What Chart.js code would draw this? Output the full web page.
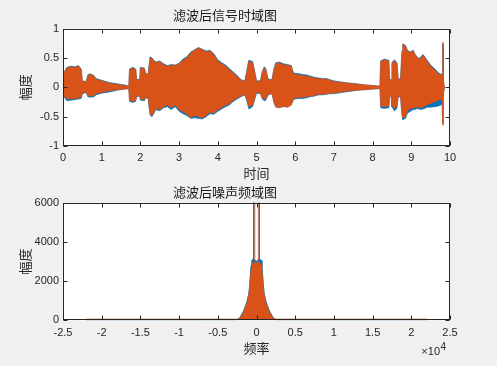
<!DOCTYPE html>
<html>
<head>
<meta charset="utf-8">
<title>滤波后信号</title>
<script src="https://cdn.jsdelivr.net/npm/chart.js@4.4.0/dist/chart.umd.min.js"></script>
<style>
    html, body { margin: 0; padding: 0; background: #f0f0f0; }
    #wrap { position: relative; width: 497px; height: 366px; overflow: hidden; }
    canvas { position: absolute; left: 0; }
    #timeChart { top: 0; }
    #specChart { top: 178px; }
</style>
</head>
<body>
<div id="wrap">
    <canvas id="timeChart" width="497" height="183"></canvas>
    <canvas id="specChart" width="497" height="188"></canvas>
</div>
<script>
// Time-domain envelope (seconds / amplitude)
const timeAxis = [
    0, 0.03, 0.1, 0.2, 0.3, 0.4, 0.47, 0.5, 0.6, 0.64,
    0.7, 0.8, 0.85, 1.0, 1.2, 1.4, 1.6, 1.7, 1.72, 1.8,
    1.88, 1.9, 1.98, 2.0, 2.1, 2.14, 2.2, 2.25, 2.3, 2.35,
    2.4, 2.5, 2.6, 2.7, 2.8, 2.9, 3.0, 3.1, 3.2, 3.3,
    3.4, 3.5, 3.6, 3.7, 3.8, 3.9, 4.0, 4.1, 4.2, 4.3,
    4.4, 4.5, 4.6, 4.7, 4.76, 4.8, 4.9, 4.94, 5.0, 5.1,
    5.15, 5.2, 5.24, 5.3, 5.4, 5.45, 5.5, 5.6, 5.7, 5.8,
    5.9, 5.95, 6.0, 6.1, 6.2, 6.3, 6.4, 6.5, 6.6, 6.7,
    6.8, 6.9, 7.0, 7.2, 7.4, 7.6, 7.8, 8.0, 8.19, 8.21,
    8.3, 8.42, 8.44, 8.48, 8.5, 8.56, 8.63, 8.66, 8.72, 8.76,
    8.78, 8.85, 8.9, 8.95, 9.0, 9.05, 9.1, 9.16, 9.2, 9.25,
    9.3, 9.35, 9.4, 9.5, 9.6, 9.7, 9.77, 9.8, 9.81, 9.82,
    9.83, 9.86
];
const blueHigh = [
    0, 0.26, 0.34, 0.36, 0.35, 0.37, 0.31, 0.11, 0.10, 0.21,
    0.23, 0.20, 0.15, 0.12, 0.08, 0.06, 0.04, 0.02, 0.31, 0.34,
    0.31, 0.14, 0.13, 0.34, 0.33, 0.23, 0.23, 0.52, 0.50, 0.46,
    0.43, 0.45, 0.40, 0.37, 0.39, 0.38, 0.41, 0.48, 0.52, 0.60,
    0.64, 0.68, 0.65, 0.62, 0.63, 0.57, 0.47, 0.42, 0.38, 0.32,
    0.26, 0.20, 0.13, 0.11, 0.32, 0.46, 0.44, 0.32, 0.11, 0.11,
    0.27, 0.35, 0.32, 0.14, 0.13, 0.32, 0.42, 0.43, 0.40, 0.39,
    0.37, 0.25, 0.24, 0.23, 0.22, 0.21, 0.19, 0.17, 0.16, 0.15,
    0.15, 0.13, 0.11, 0.09, 0.07, 0.06, 0.04, 0.03, 0.02, 0.45,
    0.48, 0.46, 0.14, 0.13, 0.42, 0.47, 0.42, 0.15, 0.14, 0.62,
    0.74, 0.71, 0.63, 0.61, 0.61, 0.63, 0.56, 0.51, 0.49, 0.52,
    0.56, 0.52, 0.47, 0.38, 0.32, 0.25, 0.22, 0.23, 0.74, 0.74,
    0.10, 0
];
const blueLow = [
    0, -0.17, -0.23, -0.22, -0.21, -0.20, -0.19, -0.11, -0.09, -0.16,
    -0.17, -0.16, -0.13, -0.10, -0.08, -0.05, -0.03, -0.02, -0.24, -0.26,
    -0.24, -0.16, -0.15, -0.22, -0.23, -0.18, -0.19, -0.47, -0.50, -0.44,
    -0.38, -0.40, -0.35, -0.33, -0.38, -0.33, -0.41, -0.45, -0.48, -0.53,
    -0.52, -0.53, -0.54, -0.50, -0.45, -0.46, -0.41, -0.37, -0.33, -0.30,
    -0.24, -0.20, -0.16, -0.13, -0.25, -0.37, -0.33, -0.24, -0.10, -0.11,
    -0.20, -0.23, -0.22, -0.13, -0.11, -0.26, -0.34, -0.34, -0.33, -0.33,
    -0.30, -0.21, -0.20, -0.19, -0.19, -0.18, -0.16, -0.15, -0.13, -0.13,
    -0.12, -0.11, -0.11, -0.09, -0.07, -0.05, -0.04, -0.03, -0.02, -0.35,
    -0.36, -0.35, -0.16, -0.15, -0.33, -0.40, -0.36, -0.17, -0.16, -0.48,
    -0.55, -0.53, -0.44, -0.42, -0.40, -0.38, -0.38, -0.36, -0.37, -0.38,
    -0.37, -0.36, -0.34, -0.34, -0.33, -0.32, -0.30, -0.28, -0.62, -0.62,
    -0.10, 0
];
const orangeHigh = [
    0, 0.25, 0.33, 0.35, 0.34, 0.36, 0.30, 0.10, 0.09, 0.20,
    0.22, 0.19, 0.14, 0.11, 0.07, 0.05, 0.03, 0.02, 0.30, 0.33,
    0.30, 0.13, 0.12, 0.33, 0.32, 0.22, 0.22, 0.50, 0.49, 0.45,
    0.42, 0.44, 0.38, 0.36, 0.38, 0.37, 0.40, 0.46, 0.50, 0.58,
    0.63, 0.67, 0.64, 0.60, 0.62, 0.55, 0.45, 0.40, 0.36, 0.30,
    0.24, 0.18, 0.12, 0.10, 0.30, 0.44, 0.42, 0.30, 0.10, 0.10,
    0.25, 0.33, 0.30, 0.13, 0.12, 0.30, 0.40, 0.42, 0.38, 0.38,
    0.36, 0.24, 0.22, 0.21, 0.20, 0.19, 0.17, 0.16, 0.15, 0.14,
    0.14, 0.12, 0.10, 0.08, 0.07, 0.05, 0.04, 0.03, 0.02, 0.44,
    0.47, 0.45, 0.13, 0.12, 0.40, 0.45, 0.40, 0.14, 0.13, 0.60,
    0.73, 0.70, 0.62, 0.60, 0.60, 0.62, 0.55, 0.50, 0.48, 0.50,
    0.55, 0.50, 0.45, 0.36, 0.30, 0.23, 0.20, 0.22, 0.76, 0.76,
    0.10, 0
];
const orangeLow = [
    0, -0.15, -0.20, -0.19, -0.20, -0.18, -0.17, -0.10, -0.08, -0.14,
    -0.15, -0.14, -0.11, -0.09, -0.06, -0.04, -0.03, -0.02, -0.22, -0.24,
    -0.22, -0.15, -0.14, -0.20, -0.21, -0.17, -0.18, -0.45, -0.48, -0.42,
    -0.36, -0.38, -0.33, -0.30, -0.35, -0.30, -0.38, -0.42, -0.45, -0.52,
    -0.48, -0.50, -0.52, -0.48, -0.42, -0.44, -0.38, -0.35, -0.30, -0.28,
    -0.22, -0.18, -0.15, -0.12, -0.22, -0.33, -0.30, -0.22, -0.08, -0.10,
    -0.18, -0.20, -0.20, -0.12, -0.10, -0.25, -0.33, -0.35, -0.32, -0.34,
    -0.30, -0.20, -0.18, -0.17, -0.17, -0.16, -0.15, -0.14, -0.12, -0.12,
    -0.11, -0.10, -0.10, -0.08, -0.06, -0.05, -0.04, -0.03, -0.02, -0.32,
    -0.33, -0.32, -0.15, -0.14, -0.30, -0.36, -0.33, -0.16, -0.15, -0.45,
    -0.52, -0.50, -0.40, -0.38, -0.36, -0.35, -0.35, -0.33, -0.34, -0.35,
    -0.34, -0.32, -0.30, -0.27, -0.25, -0.22, -0.20, -0.25, -0.64, -0.64,
    -0.10, 0
];
const timeTicks = [0, 1, 2, 3, 4, 5, 6, 7, 8, 9, 10];

// Noise spectrum (Hz / magnitude)
const freqAxis = [
    -22050, -3000, -2500, -2200, -2000, -1800, -1600, -1400, -1200, -1000,
    -900, -800, -700, -600, -500, -400, -360, -350, -340, -300,
    -230, -220, -210, -150, -80, 0, 80, 150, 210, 220,
    230, 300, 330, 340, 350, 400, 500, 600, 700, 800,
    900, 1000, 1200, 1400, 1600, 1800, 2000, 2200, 2500, 3000,
    22050
];
const blueSpectrum = [
    10, 15, 30, 110, 240, 380, 540, 760, 1000, 1350,
    1700, 2250, 2800, 3050, 3100, 3150, 3100, 6500, 3100, 3100,
    3100, 3100, 3100, 3050, 3000, 3000, 3000, 3050, 3100, 3100,
    3100, 3100, 3100, 6500, 3100, 3150, 3100, 3050, 2800, 2250,
    1700, 1350, 1000, 760, 540, 380, 240, 110, 30, 15,
    10
];
const orangeSpectrum = [
    60, 60, 70, 100, 200, 320, 480, 700, 950, 1300,
    1600, 2100, 2600, 2850, 2900, 2950, 2900, 2900, 2900, 2950,
    2900, 6000, 2900, 2950, 2900, 2950, 2900, 2950, 2900, 6000,
    2900, 2950, 2900, 2900, 2900, 2950, 2900, 2850, 2600, 2100,
    1600, 1300, 950, 700, 480, 320, 200, 100, 70, 60,
    60
];

const BLUE = '#0072BD';
const ORANGE = '#D95319';
const CJK = '"Noto Sans CJK SC", sans-serif';

Chart.defaults.font.family = '"Liberation Sans", Arial, sans-serif';
Chart.defaults.font.size = 11;
Chart.defaults.color = '#262626';

// White plot box, MATLAB style box outline and inward ticks
const matlabAxes = {
    id: 'matlabAxes',
    beforeDraw(chart) {
        const { ctx, chartArea: a } = chart;
        ctx.save();
        ctx.fillStyle = '#ffffff';
        ctx.fillRect(a.left, a.top, a.right - a.left, a.bottom - a.top);
        ctx.restore();
    },
    afterDraw(chart) {
        const { ctx, chartArea: a, scales } = chart;
        const L = Math.round(a.left) + 0.5, R = Math.round(a.right) - 0.5;
        const T = Math.round(a.top) + 0.5, B = Math.round(a.bottom) - 0.5;
        ctx.save();
        ctx.strokeStyle = '#262626';
        ctx.lineWidth = 1;
        ctx.strokeRect(L, T, R - L, B - T);
        ctx.beginPath();
        scales.x.ticks.forEach(t => {
            const px = Math.round(scales.x.getPixelForValue(t.value)) + 0.5;
            ctx.moveTo(px, B); ctx.lineTo(px, B - 4);
            ctx.moveTo(px, T); ctx.lineTo(px, T + 4);
        });
        scales.y.ticks.forEach(t => {
            const py = Math.round(scales.y.getPixelForValue(t.value)) + 0.5;
            ctx.moveTo(L, py); ctx.lineTo(L + 4, py);
            ctx.moveTo(R, py); ctx.lineTo(R - 4, py);
        });
        ctx.stroke();
        ctx.restore();
    }
};

// "×10^4" exponent label under the frequency axis
const axisExponent = {
    id: 'axisExponent',
    afterDraw(chart) {
        const { ctx, chartArea: a } = chart;
        ctx.save();
        ctx.fillStyle = '#262626';
        ctx.textBaseline = 'alphabetic';
        ctx.textAlign = 'right';
        ctx.font = '11px "Liberation Sans", Arial, sans-serif';
        ctx.fillText('×10', a.right - 10, a.bottom + 35);
        ctx.textAlign = 'left';
        ctx.font = '10px "Liberation Sans", Arial, sans-serif';
        ctx.fillText('4', a.right - 9.5, a.bottom + 30);
        ctx.restore();
    }
};

function toPoints(xs, ys) {
    return xs.map((x, i) => ({ x: x, y: ys[i] }));
}

function axisTitle(text, padding) {
    return { display: true, text: text, color: '#262626', font: { family: CJK, size: 13 }, padding: padding };
}

function createTimeChart() {
    const ctx = document.getElementById('timeChart').getContext('2d');
    new Chart(ctx, {
        type: 'line',
        data: {
            datasets: [
                { data: toPoints(timeAxis, orangeHigh), borderColor: 'rgba(217,83,25,0.55)', backgroundColor: ORANGE, borderWidth: 1.2, fill: '+1' },
                { data: toPoints(timeAxis, orangeLow), borderColor: 'rgba(217,83,25,0.55)', borderWidth: 1.2, fill: false },
                { data: toPoints(timeAxis, blueHigh), borderColor: 'rgba(0,114,189,0.6)', backgroundColor: BLUE, borderWidth: 1, fill: '+1' },
                { data: toPoints(timeAxis, blueLow), borderColor: 'rgba(0,114,189,0.6)', borderWidth: 1, fill: false }
            ]
        },
        options: {
            responsive: false,
            animation: false,
            events: [],
            layout: { padding: { left: 0, right: 47, top: 0, bottom: 0 } },
            elements: { point: { radius: 0 }, line: { tension: 0 } },
            plugins: {
                legend: { display: false },
                tooltip: { enabled: false },
                title: {
                    display: true,
                    text: '滤波后信号时域图',
                    color: '#1a1a1a',
                    font: { family: CJK, size: 13, weight: 'normal' },
                    padding: { top: 7, bottom: 6 }
                }
            },
            scales: {
                x: {
                    type: 'linear',
                    min: 0,
                    max: 10,
                    afterBuildTicks: s => { s.ticks = timeTicks.map(v => ({ value: v })); },
                    grid: { display: false, drawTicks: false },
                    border: { display: false },
                    ticks: { padding: 5, maxRotation: 0, callback: v => String(v) },
                    title: axisTitle('时间', { top: 0, bottom: 2 }),
                    afterFit: s => { s.height = 37; }
                },
                y: {
                    min: -1,
                    max: 1,
                    grid: { display: false, drawTicks: false },
                    border: { display: false },
                    ticks: { stepSize: 0.5, padding: 4, callback: v => String(v) },
                    title: axisTitle('幅度', { top: 17, bottom: 0 }),
                    afterFit: s => { s.width = 63; }
                }
            }
        },
        plugins: [matlabAxes]
    });
}

function createSpectrumChart() {
    const ctx = document.getElementById('specChart').getContext('2d');
    new Chart(ctx, {
        type: 'line',
        data: {
            datasets: [
                { data: toPoints(freqAxis, orangeSpectrum), borderColor: 'rgba(217,83,25,0.6)', backgroundColor: ORANGE, borderWidth: 1.2, fill: 'origin' },
                { data: toPoints(freqAxis, blueSpectrum), borderColor: BLUE, backgroundColor: BLUE, borderWidth: 1, fill: 'origin' }
            ]
        },
        options: {
            responsive: false,
            animation: false,
            events: [],
            layout: { padding: { left: 0, right: 47, top: 0, bottom: 0 } },
            elements: { point: { radius: 0 }, line: { tension: 0 } },
            plugins: {
                legend: { display: false },
                tooltip: { enabled: false },
                title: {
                    display: true,
                    text: '滤波后噪声频域图',
                    color: '#1a1a1a',
                    font: { family: CJK, size: 13, weight: 'normal' },
                    padding: { top: 6, bottom: 3 }
                }
            },
            scales: {
                x: {
                    type: 'linear',
                    min: -25000,
                    max: 25000,
                    grid: { display: false, drawTicks: false },
                    border: { display: false },
                    ticks: { stepSize: 5000, padding: 6, maxRotation: 0, callback: v => String(v / 10000) },
                    title: axisTitle('频率', { top: 0, bottom: 10 }),
                    afterFit: s => { s.height = 45.7; }
                },
                y: {
                    min: 0,
                    max: 6000,
                    grid: { display: false, drawTicks: false },
                    border: { display: false },
                    ticks: { stepSize: 2000, padding: 4, callback: v => String(v) },
                    title: axisTitle('幅度', { top: 17, bottom: 0 }),
                    afterFit: s => { s.width = 63; }
                }
            }
        },
        plugins: [matlabAxes, axisExponent]
    });
}

document.addEventListener('DOMContentLoaded', function() {
    createTimeChart();
    createSpectrumChart();
});
</script>
</body>
</html>
